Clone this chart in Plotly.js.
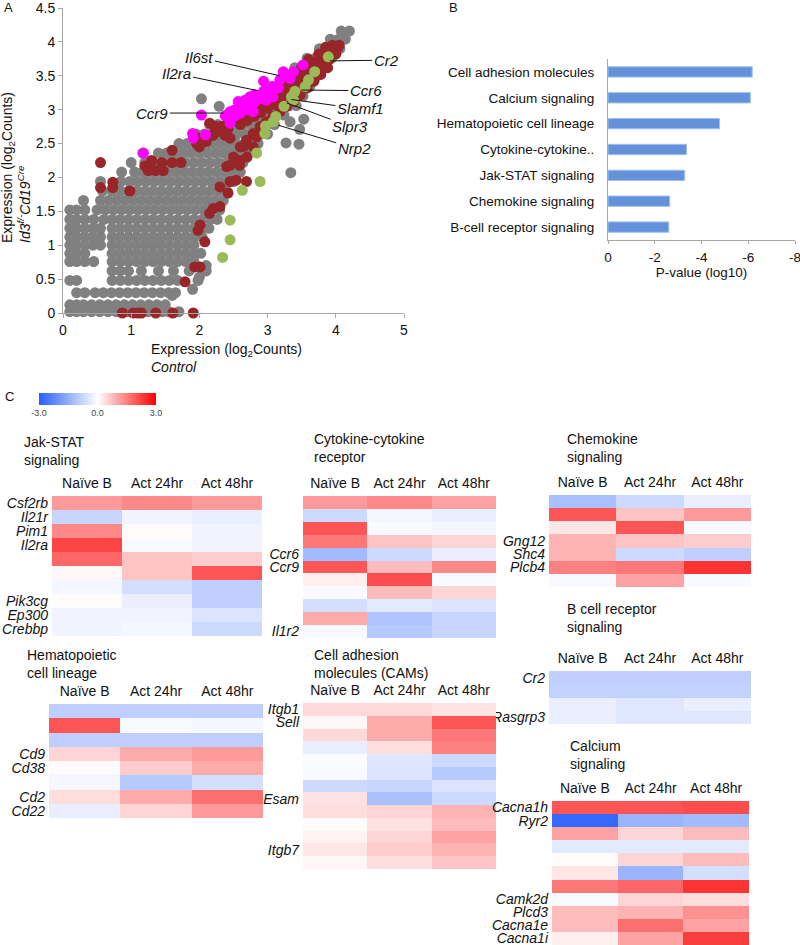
<!DOCTYPE html>
<html><head><meta charset="utf-8">
<script src="https://cdn.plot.ly/plotly-3.0.1.min.js"></script>
<style>html,body{margin:0;padding:0;background:#fff}#chart{width:800px;height:945px}</style>
</head><body><div id="chart"></div>
<script>
// ================= Panel A data =================
// gray cloud: each row = one y level with the x positions of dots on it
const grayRowY = [0.02,0.12,0.3,0.48,0.62,0.76,0.88,1.0,1.12,1.25,1.38,1.52,1.66,1.8,1.94,2.08,2.22,2.36,2.5,2.64,2.78,2.92,3.06,3.2,3.34,3.48,3.62,3.76,3.9,4.04,4.16];
const grayRowX = [
 [0.1,0.2,0.3,0.42,0.54,0.66,0.78,0.95,1.25,1.46,1.55,1.7],
 [0.1,0.2,0.3,0.42,0.54,0.66,0.78,0.9,1.02,1.14,1.26,1.38,1.5],
 [0.2,0.32,0.47,0.59,0.71,0.83,0.95,1.07,1.19,1.31,1.43,1.55,1.65],
 [0.1,0.2,0.72,0.84,0.96,1.08,1.2,1.32,1.44,1.56,1.68,1.98],
 [0.72,0.84,0.96,1.15,1.4,1.62,1.85,2.1],
 [0.1,0.2,0.32,0.45,0.72,0.84,0.96,1.08,1.2,1.32,1.44,1.56,1.68,1.8,1.92],
 [0.1,0.2,0.32,0.72,0.84,0.96,1.08,1.2,1.32,1.44,1.56,1.68,1.8,1.92,2.02],
 [0.1,0.2,0.32,0.44,0.55,0.72,0.84,0.96,1.08,1.2,1.32,1.44,1.56,1.68,1.8,1.92],
 [0.1,0.2,0.32,0.44,0.55,0.72,0.84,0.96,1.08,1.2,1.32,1.44,1.56,1.68,1.8,1.92,2.04],
 [0.1,0.2,0.32,0.44,0.55,0.72,0.84,0.96,1.08,1.2,1.32,1.44,1.56,1.68,1.8,1.92,2.04,2.14],
 [0.1,0.2,0.32,0.45,0.6,0.72,0.84,0.96,1.08,1.2,1.32,1.44,1.56,1.68,1.8,1.92,2.04,2.16,2.26],
 [0.1,0.2,0.32,0.5,0.62,0.74,0.86,0.98,1.1,1.22,1.34,1.46,1.58,1.7,1.82,1.94,2.06,2.18,2.3],
 [0.3,0.55,0.67,0.79,0.91,1.03,1.15,1.27,1.39,1.51,1.63,1.75,1.87,1.99,2.11,2.23,2.35],
 [0.58,0.72,0.84,0.96,1.08,1.2,1.32,1.44,1.56,1.68,1.8,1.92,2.04,2.16,2.28,2.4],
 [0.55,0.85,0.98,1.1,1.22,1.34,1.46,1.58,1.7,1.82,1.94,2.06,2.18,2.3,2.42,2.5],
 [0.86,1.05,1.17,1.29,1.41,1.53,1.65,1.77,1.89,2.01,2.13,2.25,2.37,2.49,2.6],
 [1.0,1.2,1.32,1.44,1.56,1.68,1.8,1.92,2.04,2.16,2.28,2.4,2.52,2.64],
 [1.17,1.4,1.52,1.64,1.76,1.88,2.0,2.12,2.24,2.36,2.48,2.6,2.72],
 [1.7,1.82,1.94,2.06,2.18,2.3,2.42,2.54,2.66,2.78,2.86],
 [1.95,2.07,2.19,2.31,2.43,2.55,2.67,2.79,2.9,3.0],
 [2.15,2.27,2.39,2.51,2.63,2.75,2.87,2.99,3.1],
 [2.4,2.52,2.64,2.76,2.88,3.0,3.12,3.24],
 [2.6,2.72,2.84,2.96,3.08,3.2,3.32,3.42],
 [2.85,2.97,3.09,3.21,3.33,3.45,3.52],
 [3.05,3.17,3.29,3.41,3.53,3.62],
 [3.22,3.34,3.46,3.58,3.7],
 [3.4,3.52,3.64,3.76,3.84],
 [3.58,3.7,3.82,3.94],
 [3.76,3.88,4.0,4.06],
 [3.92,4.04,4.14],
 [4.08,4.2]
];
const grayOutliers = [[2.03,3.16],[2.29,3.05],[3.33,2.82],[3.53,2.86],[3.47,2.71],[3.27,2.51],[3.46,2.49],[3.34,2.07],[2.0,0.53],[2.1,0.7],[1.6,0.26],[1.9,0.35]];
const brownPoints = [
 [0.55,2.22],[0.55,1.85],[0.73,1.93],[0.73,1.85],[0.98,1.8],[1.2,2.17],[1.28,2.17],[1.3,2.25],[1.36,2.1],[1.47,2.1],[1.45,2.22],[1.6,2.22],[1.73,2.22],[1.6,2.4],[1.25,2.1],
 [0.87,0],[1.03,0],[1.1,0],[1.15,0],[1.36,0],[1.61,0],[1.91,0],
 [1.96,2.5],[2.0,2.45],[2.1,2.53],[2.23,2.68],[2.32,2.75],[2.15,2.8],[2.25,2.75],[2.3,2.68],[2.38,2.62],[2.45,2.58],[2.2,2.62],[2.35,2.75],[2.42,2.72],[1.95,2.6],[2.05,2.55],
 [2.5,2.85],[2.58,2.9],[2.66,2.95],[2.74,3.0],[2.82,3.05],[2.9,3.1],[2.98,3.15],[3.06,3.2],[3.14,3.27],[3.22,3.33],[3.3,3.4],[3.38,3.46],[3.46,3.52],[3.54,3.58],[3.62,3.64],[3.7,3.7],[3.78,3.76],[3.86,3.82],[3.94,3.88],[4.02,3.9],
 [2.6,2.78],[2.7,2.84],[2.8,2.9],[2.9,2.96],[3.0,3.02],[3.1,3.08],[3.2,3.16],[3.3,3.24],[3.4,3.32],[3.5,3.4],[3.6,3.5],[3.7,3.58],[3.8,3.66],[3.9,3.74],[4.0,3.82],
 [3.6,3.74],[3.75,3.82],[3.85,3.92],[3.95,3.95],[4.05,3.95],[3.5,3.63],[3.3,3.5],
 [2.4,2.16],[2.5,2.3],[2.6,2.45],[2.69,2.55],[2.79,2.65],[2.89,2.75],[2.98,2.82],[3.08,2.9],[3.18,2.97],[3.28,3.05],[3.38,3.12],[3.48,3.22],[3.58,3.32],[3.68,3.42],[3.78,3.52],[3.88,3.62],
 [2.45,2.18],[2.59,2.18],[2.69,1.94],[2.54,1.96],[2.45,1.94],[2.3,1.86],[2.42,1.77],[2.3,1.57],[2.2,1.54],[2.15,1.47],[2.01,1.3],[1.98,1.22],[2.08,1.05],[2.01,0.68],[1.93,0.68],[1.79,0.46],[2.65,2.46],[2.79,2.45],[2.84,2.6],[2.6,2.25],[2.7,2.3]
];
const greenPoints = [[3.89,3.78],[3.69,3.56],[3.6,3.44],[3.55,3.34],[3.4,3.27],[3.35,3.19],[3.38,3.14],[3.24,3.05],[3.12,2.9],[3.08,2.82],[2.97,2.76],[2.96,2.65],[2.84,2.36],[2.89,1.94],[2.63,1.81],[2.45,1.37],[2.45,1.08],[2.34,0.82]];
const magentaPoints = [[1.18,2.36],[1.9,2.65],[1.91,2.58],[2.09,2.63],[2.03,2.92],[2.38,2.91],[2.45,2.8],[2.45,2.97],[2.52,3.0],[2.57,3.12],[2.67,3.14],[2.74,3.19],[2.81,3.22],[2.72,3.07],[2.79,3.09],[2.84,3.14],[2.94,3.42],[2.94,3.27],[3.03,3.29],[3.08,3.34],[3.16,3.32],[3.23,3.56],[3.28,3.51],[3.38,3.56],[3.33,3.46],[3.52,3.66],[2.98,3.14],[2.89,3.17],[2.62,3.02],[2.52,2.91],[2.79,2.97],[3.08,3.19],[3.18,3.44],[2.6,2.95],[2.7,3.0],[3.0,3.2]];
const calloutGenes = ['Il6st','Il2ra','Ccr9','Cr2','Ccr6','Slamf1','Slpr3','Nrp2'];
const aTicksX = [0,1,2,3,4,5];
const aTicksY = [0,0.5,1,1.5,2,2.5,3,3.5,4,4.5];

// ================= Panel B data =================
const pathways = ['Cell adhesion molecules','Calcium signaling','Hematopoietic cell lineage','Cytokine-cytokine..','Jak-STAT signaling','Chemokine signaling','B-cell receptor signaling'];
const pvalueLog10 = [-6.17,-6.09,-4.77,-3.36,-3.28,-2.64,-2.6];
const bTicks = [0,-2,-4,-6,-8];
const bTickText = ['0','-2','-4','-6','-8'];

// ================= Panel C data =================
const conditions = ['Naïve B','Act 24hr','Act 48hr'];
const jakGenes = ['Csf2rb','Il21r','Pim1','Il2ra','','','','Pik3cg','Ep300','Crebbp'];
const jakValues = [[1.2,1.4,1.2],[-0.8,-0.2,-0.3],[1.4,0.05,-0.2],[2.2,-0.1,-0.2],[1.8,0.7,0.6],[0.1,0.7,2.0],[-0.15,-0.6,-0.9],[0.05,-0.3,-0.9],[-0.2,-0.2,-0.5],[-0.2,-0.15,-0.7]];
const cytoGenes = ['','','','','Ccr6','Ccr9','','','','','Il1r2'];
const cytoValues = [[1.2,1.4,1.1],[-0.7,-0.15,-0.3],[2.0,-0.1,-0.15],[1.6,0.7,0.5],[-1.3,-0.7,-0.3],[2.0,0.8,1.4],[0.2,2.1,-0.1],[-0.1,0.8,0.5],[-0.6,-0.4,-0.5],[1.0,-1.1,-0.8],[-0.1,-1.0,-0.8]];
const chemoGenes = ['','','','Gng12','Shc4','Plcb4',''];
const chemoValues = [[-1.2,-0.7,-0.3],[2.0,0.7,1.2],[0.3,2.0,-0.1],[0.9,0.7,0.6],[0.9,-0.7,-0.9],[1.5,1.6,2.4],[-0.1,1.1,-0.1]];
const bcrGenes = ['Cr2','','','Rasgrp3'];
const bcrValues = [[-0.9,-0.9,-0.9],[-0.85,-0.85,-0.85],[-0.3,-0.45,-0.3],[-0.3,-0.45,-0.45]];
const hemaGenes = ['','','','Cd9','Cd38','','Cd2','Cd22'];
const hemaValues = [[-0.9,-0.9,-0.9],[2.0,-0.1,-0.15],[-0.9,-0.9,-0.9],[0.5,1.0,1.2],[0.05,0.6,1.0],[-0.15,-1.0,-0.6],[0.4,1.0,1.7],[-0.3,0.5,1.2]];
const camGenes = ['Itgb1','Sell','','','','','','Esam','','','','Itgb7',''];
const camValues = [[0.45,0.45,0.35],[0.1,1.0,2.0],[0.45,1.0,1.6],[-0.3,0.4,1.5],[-0.05,-0.45,-0.7],[-0.1,-0.5,-1.0],[-0.7,-0.8,-0.5],[0.35,-1.2,-0.7],[0.4,0.5,0.9],[0.05,0.35,0.8],[0.15,0.5,1.1],[0.3,0.6,0.9],[0.1,0.4,0.7]];
const caGenes = ['Cacna1h','Ryr2','','','','','','Camk2d','Plcd3','Cacna1e','Cacna1i'];
const caValues = [[2.0,2.0,2.1],[-2.8,-1.4,-1.3],[1.1,0.5,0.8],[-0.4,-0.4,-0.4],[0.05,0.5,0.8],[0.3,-1.4,-0.6],[1.6,1.8,2.4],[-0.1,0.5,0.4],[0.8,0.9,1.3],[0.8,1.7,1.1],[0.2,1.1,2.3]];
const scaleTicks = [-3,0,3];
const scaleTickText = ['-3.0','0.0','3.0'];

// ================= build =================
const W = 800, H = 945;
const FONT = 'Liberation Sans, Arial, Helvetica, sans-serif';
const px = v => v / W;
const py = v => 1 - v / H;
const DOT = 11;

const grayX = [], grayY = [];
grayRowX.forEach((xs, i) => xs.forEach(x => { grayX.push(x); grayY.push(grayRowY[i]); }));
grayOutliers.forEach(p => { grayX.push(p[0]); grayY.push(p[1]); });

function dots(points, color) {
  return {type:'scatter', mode:'markers', x: points.map(p=>p[0]), y: points.map(p=>p[1]),
    marker:{size:DOT, color:color, line:{width:0}}, cliponaxis:false, hoverinfo:'skip', xaxis:'x', yaxis:'y', showlegend:false};
}

const traces = [
  {type:'scatter', mode:'markers', x:grayX, y:grayY, marker:{size:DOT, color:'rgb(128,128,128)', line:{width:0}}, cliponaxis:false, hoverinfo:'skip', showlegend:false},
  dots(brownPoints, 'rgb(152,38,40)'),
  dots(greenPoints, 'rgb(155,187,89)'),
  dots(magentaPoints, 'rgb(255,0,255)'),
  {type:'bar', orientation:'h', y:pathways, x:pvalueLog10, width:0.4, xaxis:'x2', yaxis:'y2',
    marker:{color:'rgb(100,146,218)', line:{color:'rgb(160,192,236)', width:1}}, hoverinfo:'skip', showlegend:false}
];

const heatDefs = [
  {genes:jakGenes,  z:jakValues,  x0:52,  x1:262, y0:496, y1:636, title:'Jak-STAT<br>signaling', tx:22,  ty:432},
  {genes:cytoGenes, z:cytoValues, x0:303, x1:496, y0:496, y1:638, title:'Cytokine-cytokine<br>receptor', tx:312, ty:429},
  {genes:chemoGenes,z:chemoValues,x0:549, x1:751, y0:495, y1:587, title:'Chemokine<br>signaling', tx:565, ty:429},
  {genes:bcrGenes,  z:bcrValues,  x0:549, x1:751, y0:671, y1:724, title:'B cell receptor<br>signaling', tx:565, ty:599},
  {genes:hemaGenes, z:hemaValues, x0:49,  x1:263, y0:704, y1:818, title:'Hematopoietic<br>cell lineage', tx:25, ty:645},
  {genes:camGenes,  z:camValues,  x0:303, x1:496, y0:703, y1:869, title:'Cell adhesion<br>molecules (CAMs)', tx:312, ty:645},
  {genes:caGenes,   z:caValues,   x0:552, x1:749, y0:801, y1:945, title:'Calcium<br>signaling', tx:568, ty:736}
];

const layout = {
  width: W, height: H, margin:{l:0,r:0,t:0,b:0}, paper_bgcolor:'#fff', plot_bgcolor:'rgba(0,0,0,0)',
  font:{family:FONT, size:14, color:'#111'}, showlegend:false,
  xaxis:{domain:[px(63),px(404)], range:[0,5], tickvals:aTicksX, showgrid:false, zeroline:false,
    showline:true, linecolor:'#a6a6a6', linewidth:1, ticks:'outside', ticklen:4, tickcolor:'#a6a6a6',
    tickfont:{size:14,color:'#111'}, ticklabeloverflow:'allow', anchor:'y', fixedrange:true},
  yaxis:{domain:[py(313),py(8)], range:[0,4.5], tickvals:aTicksY, showgrid:false, zeroline:false,
    showline:true, linecolor:'#a6a6a6', linewidth:1, ticks:'outside', ticklen:4, tickcolor:'#a6a6a6',
    tickfont:{size:14,color:'#111'}, ticklabeloverflow:'allow', anchor:'x', fixedrange:true},
  xaxis2:{domain:[px(608),px(795)], range:[0,-8], tickvals:bTicks, ticktext:bTickText, showgrid:false, zeroline:false,
    showline:true, linecolor:'#a6a6a6', ticks:'outside', ticklen:3, tickcolor:'#a6a6a6', anchor:'y2',
    tickfont:{size:13.5,color:'#111'}, ticklabelstandoff:2, ticklabeloverflow:'allow',
    title:{text:'P-value (log10)', font:{size:13.5,color:'#111'}, standoff:0}},
  yaxis2:{domain:[py(240),py(59)], type:'category', categoryorder:'array', categoryarray:pathways, autorange:'reversed',
    showgrid:false, zeroline:false, showline:true, linecolor:'#a6a6a6', ticks:'', anchor:'x2',
    tickfont:{size:13.5,color:'#111'}, ticklabelstandoff:10, ticklabeloverflow:'allow'},
  coloraxis:{cmin:-3, cmax:3,
    colorscale:[[0,'rgb(40,95,255)'],[0.5,'rgb(255,255,255)'],[1,'rgb(250,0,0)']],
    colorbar:{orientation:'h', x:px(39), xanchor:'left', y:py(393), yanchor:'top', len:117, lenmode:'pixels',
      thickness:12, tickvals:scaleTicks, ticktext:scaleTickText, ticks:'', outlinewidth:0, xpad:0, ypad:0,
      tickfont:{size:9,color:'#444'}}},
  annotations:[], shapes:[]
};

heatDefs.forEach((d, k) => {
  const n = d.z.length, ax = k + 3;
  const xa = 'x' + ax, ya = 'y' + ax;
  traces.push({type:'heatmap', z:d.z, x:conditions, y:d.z.map((r,i)=>i), coloraxis:'coloraxis',
    xaxis:xa, yaxis:ya, hoverinfo:'skip', xgap:0, ygap:0});
  const tv = [], tt = [];
  d.genes.forEach((g,i)=>{ if (g) { tv.push(i); tt.push('<i>'+g+'</i>'); } });
  layout['xaxis'+ax] = {domain:[px(d.x0),px(d.x1)], anchor:ya, side:'top', type:'category', ticks:'',
    showgrid:false, zeroline:false, showline:false, tickfont:{size:14,color:'#111'}, ticklabelstandoff:4,
    ticklabeloverflow:'allow', fixedrange:true};
  layout['yaxis'+ax] = {domain:[py(d.y1),py(d.y0)], anchor:xa, range:[n-0.5,-0.5], tickvals:tv, ticktext:tt,
    ticks:'', showgrid:false, zeroline:false, showline:false, tickfont:{size:14,color:'#111'}, ticklabelstandoff:3,
    ticklabeloverflow:'allow', fixedrange:true};
  layout.annotations.push({xref:'paper', yref:'paper', x:px(d.tx), y:py(d.ty), xanchor:'left', yanchor:'top',
    align:'left', text:d.title, showarrow:false, font:{size:14,color:'#111'}});
});

// panel letters
[['A',8,7],['B',453,7],['C',9,396]].forEach(l => layout.annotations.push({xref:'paper', yref:'paper', x:px(l[1]), y:py(l[2]),
  xanchor:'center', yanchor:'middle', text:l[0], showarrow:false, font:{size:13,color:'#111'}}));

// panel A axis titles
layout.annotations.push({xref:'paper', yref:'paper', x:px(16), y:py(168), xanchor:'center', yanchor:'middle',
  textangle:-90, align:'left', showarrow:false, font:{size:14,color:'#111'},
  text:'Expression (log<sub>2</sub>Counts)<br><i>Id3<sup>f/-</sup>Cd19<sup>Cre</sup></i>'});
layout.annotations.push({xref:'paper', yref:'paper', x:px(149), y:py(339), xanchor:'left', yanchor:'top',
  align:'left', showarrow:false, font:{size:14,color:'#111'},
  text:'Expression (log<sub>2</sub>Counts)<br><i>Control</i>'});

// gene callouts in panel A: text position and the point the leader line reaches
const calloutPos = [
  {tx:2.0, ty:3.77, x:3.18, y:3.5},
  {tx:1.67, ty:3.53, x:2.86, y:3.28},
  {tx:1.31, ty:2.95, x:2.36, y:2.95},
  {tx:4.74, ty:3.73, x:3.91, y:3.72},
  {tx:4.44, ty:3.28, x:3.5, y:3.29},
  {tx:4.36, ty:3.01, x:3.35, y:3.15},
  {tx:4.21, ty:2.75, x:3.28, y:3.1},
  {tx:4.27, ty:2.43, x:3.16, y:2.77}
];
calloutGenes.forEach((g, i) => {
  const c = calloutPos[i];
  layout.annotations.push({xref:'x', yref:'y', axref:'x', ayref:'y', x:c.x, y:c.y, ax:c.tx, ay:c.ty,
    text:'<i>'+g+'</i>', showarrow:true, arrowhead:0, arrowwidth:1, arrowcolor:'#111', standoff:0, startstandoff:0,
    font:{size:15,color:'#111'}, borderpad:1});
});

Plotly.newPlot('chart', traces, layout, {staticPlot:true, displayModeBar:false});
</script>
</body></html>
